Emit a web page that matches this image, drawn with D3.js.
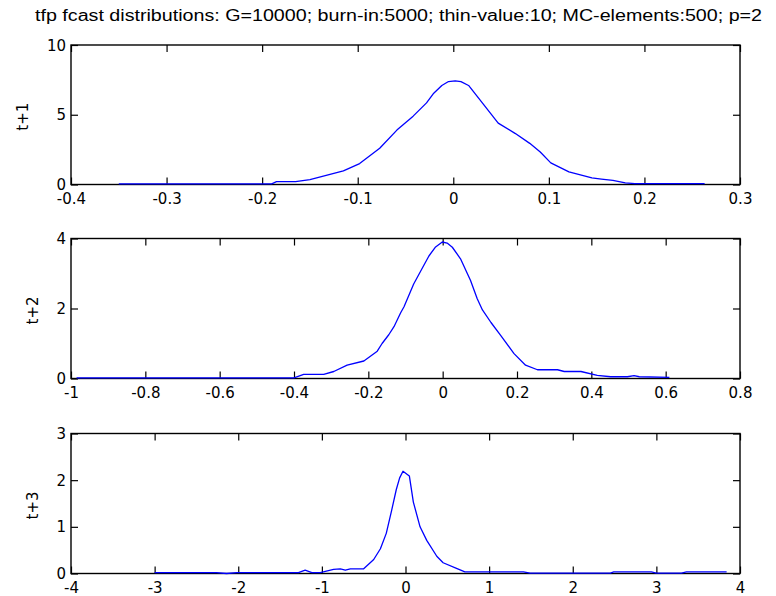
<!DOCTYPE html>
<html>
<head>
<meta charset="utf-8">
<script src="https://cdn.jsdelivr.net/npm/d3@7"></script>
<style>
  html, body { margin: 0; padding: 0; background: #fff; }
  svg { display: block; }
</style>
</head>
<body>
<svg id="chart" width="776" height="596"></svg>
<script>
// ---------- data ----------
const titleText = "tfp fcast distributions: G=10000; burn-in:5000; thin-value:10; MC-elements:500; p=2";
const panelLabels = ["t+1", "t+2", "t+3"];

// t+1
const t1X = [-0.35, -0.19, -0.185, -0.165, -0.15, -0.13, -0.115, -0.098, -0.077, -0.059, -0.042, -0.028, -0.021, -0.012, -0.005, 0.002, 0.008, 0.016, 0.031, 0.047, 0.065, 0.08, 0.091, 0.102, 0.121, 0.145, 0.155, 0.167, 0.18, 0.19, 0.263];
const t1Y = [0.05, 0.05, 0.2, 0.2, 0.35, 0.7, 0.98, 1.5, 2.6, 3.9, 4.9, 5.85, 6.5, 7.1, 7.38, 7.43, 7.38, 7.1, 5.8, 4.4, 3.65, 2.95, 2.33, 1.55, 0.9, 0.47, 0.38, 0.29, 0.12, 0.06, 0.06];
const t1XTicks = [-0.4, -0.3, -0.2, -0.1, 0, 0.1, 0.2, 0.3];
const t1YTicks = [0, 5, 10];

// t+2
const t2X = [-0.985, -0.40, -0.374, -0.32, -0.293, -0.257, -0.212, -0.176, -0.163, -0.145, -0.131, -0.113, -0.104, -0.078, -0.055, -0.037, -0.019, -0.001, 0.012, 0.026, 0.048, 0.075, 0.093, 0.107, 0.13, 0.156, 0.192, 0.223, 0.255, 0.309, 0.327, 0.372, 0.416, 0.452, 0.497, 0.515, 0.529, 0.61];
const t2Y = [0.02, 0.02, 0.12, 0.12, 0.2, 0.38, 0.5, 0.78, 1.0, 1.25, 1.48, 1.88, 2.05, 2.7, 3.15, 3.5, 3.76, 3.9, 3.87, 3.75, 3.42, 2.8, 2.28, 1.96, 1.6, 1.23, 0.71, 0.38, 0.25, 0.25, 0.2, 0.2, 0.09, 0.05, 0.05, 0.08, 0.05, 0.03];
const t2XTicks = [-1, -0.8, -0.6, -0.4, -0.2, 0, 0.2, 0.4, 0.6, 0.8];
const t2YTicks = [0, 2, 4];

// t+3
const t3X = [-3.0, -2.26, -2.14, -2.02, -1.28, -1.2, -1.12, -1.02, -0.86, -0.78, -0.72, -0.66, -0.5, -0.38, -0.30, -0.23, -0.165, -0.11, -0.07, -0.03, 0.046, 0.094, 0.174, 0.254, 0.374, 0.45, 0.61, 0.71, 1.41, 1.49, 2.45, 2.49, 2.94, 3.0, 3.30, 3.36, 3.84];
const t3Y = [0.02, 0.02, 0.0, 0.02, 0.02, 0.07, 0.02, 0.02, 0.09, 0.1, 0.07, 0.1, 0.1, 0.3, 0.53, 0.86, 1.36, 1.8, 2.05, 2.19, 2.09, 1.53, 1.0, 0.71, 0.37, 0.23, 0.11, 0.035, 0.035, 0.01, 0.01, 0.035, 0.035, 0.01, 0.01, 0.035, 0.035];
const t3XTicks = [-4, -3, -2, -1, 0, 1, 2, 3, 4];
const t3YTicks = [0, 1, 2, 3];

// ---------- layout ----------
const svg = d3.select("#chart");
const plotLeft = 71, plotRight = 740;
const panels = [
  { label: panelLabels[0], xs: t1X, ys: t1Y, xTicks: t1XTicks, yTicks: t1YTicks, top: 45,  bottom: 184.5 },
  { label: panelLabels[1], xs: t2X, ys: t2Y, xTicks: t2XTicks, yTicks: t2YTicks, top: 238.5, bottom: 378.5 },
  { label: panelLabels[2], xs: t3X, ys: t3Y, xTicks: t3XTicks, yTicks: t3YTicks, top: 433.5, bottom: 573.5 }
];
const tickFont = "DejaVu Sans, Liberation Sans, Arial, sans-serif";
const tickSize = 15;
const tickLen = 7;

// title
const title = svg.append("text")
  .attr("x", 398.5).attr("y", 21)
  .attr("text-anchor", "middle")
  .style("font-family", "Liberation Sans, Arial, sans-serif")
  .style("font-size", "16px")
  .attr("fill", "#000")
  .text(titleText);
title.attr("textLength", 727).attr("lengthAdjust", "spacingAndGlyphs");

panels.forEach(p => {
  const x = d3.scaleLinear()
    .domain([p.xTicks[0], p.xTicks[p.xTicks.length - 1]])
    .range([plotLeft, plotRight]);
  const y = d3.scaleLinear()
    .domain([p.yTicks[0], p.yTicks[p.yTicks.length - 1]])
    .range([p.bottom, p.top]);

  const g = svg.append("g");
  const fmt = d => String(d);

  const gb = g.append("g").attr("transform", `translate(0,${p.bottom})`)
    .call(d3.axisBottom(x).tickValues(p.xTicks).tickFormat(fmt).tickSizeInner(-tickLen).tickSizeOuter(0).tickPadding(0));
  const gt = g.append("g").attr("transform", `translate(0,${p.top})`)
    .call(d3.axisTop(x).tickValues(p.xTicks).tickFormat("").tickSizeInner(-tickLen).tickSizeOuter(0));
  const gl = g.append("g").attr("transform", `translate(${plotLeft},0)`)
    .call(d3.axisLeft(y).tickValues(p.yTicks).tickFormat(fmt).tickSizeInner(-tickLen).tickSizeOuter(0).tickPadding(5));
  const gr = g.append("g").attr("transform", `translate(${plotRight},0)`)
    .call(d3.axisRight(y).tickValues(p.yTicks).tickFormat("").tickSizeInner(-tickLen).tickSizeOuter(0));

  [gb, gt, gl, gr].forEach(a => {
    a.select(".domain").remove();
    a.selectAll(".tick line").attr("stroke", "#000").attr("stroke-width", 1.2);
  });
  gb.selectAll(".tick text")
    .attr("y", 0).attr("dy", null)
    .attr("transform", "translate(0,19)")
    .style("font-family", tickFont).style("font-size", tickSize + "px").attr("fill", "#000");
  gl.selectAll(".tick text")
    .attr("dy", "0.34em")
    .style("font-family", tickFont).style("font-size", tickSize + "px").attr("fill", "#000");
  [gb, gl].forEach(a => a.attr("font-family", null).attr("font-size", null));

  // box
  g.append("rect")
    .attr("x", plotLeft).attr("y", p.top)
    .attr("width", plotRight - plotLeft).attr("height", p.bottom - p.top)
    .attr("fill", "none").attr("stroke", "#000").attr("stroke-width", 1.4);

  // curve
  const line = d3.line().x(d => x(d[0])).y(d => y(d[1]));
  g.append("path")
    .datum(d3.zip(p.xs, p.ys))
    .attr("d", line)
    .attr("fill", "none")
    .attr("stroke", "#0000ff")
    .attr("stroke-width", 1.3)
    .attr("stroke-linejoin", "round");

  // y label placed left of widest tick label
  let minLeft = plotLeft;
  gl.selectAll(".tick text").each(function () {
    const b = this.getBBox();
    minLeft = Math.min(minLeft, plotLeft + b.x);
  });
  const cx = minLeft - 24;
  const cy = (p.top + p.bottom) / 2 + 2;
  g.append("text")
    .attr("transform", `translate(${cx},${cy}) rotate(-90)`)
    .attr("text-anchor", "middle")
    .attr("dy", "0.35em")
    .style("font-family", tickFont).style("font-size", tickSize + "px")
    .attr("fill", "#000")
    .text(p.label);
});
</script>
</body>
</html>
